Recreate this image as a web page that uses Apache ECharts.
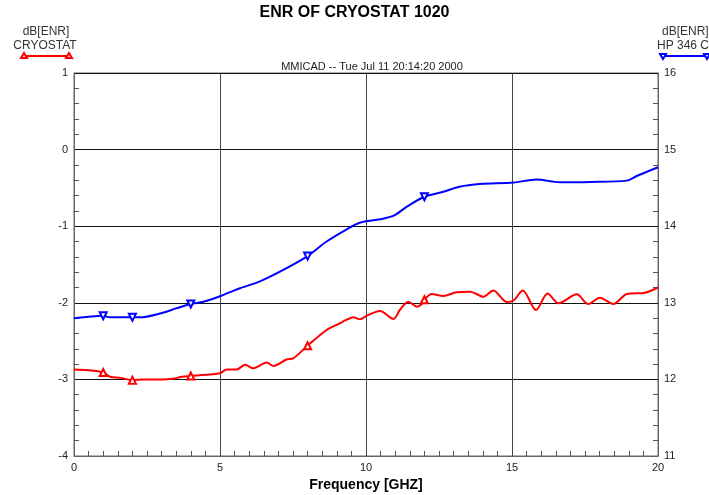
<!DOCTYPE html>
<html>
<head>
<meta charset="utf-8">
<script src="https://cdn.jsdelivr.net/npm/echarts@6/dist/echarts.min.js"></script>
<style>
  html, body { margin: 0; padding: 0; background: #fff; }
  #chart { width: 709px; height: 495px; }
</style>
</head>
<body>
<div id="chart"></div>
<script>
  // CRYOSTAT, left axis dB[ENR]
  var redFreq = [0, 0.5, 1.0, 1.23, 1.6, 2.0, 2.4, 3.0, 3.4, 3.7, 4.0, 4.5, 5.0, 5.23, 5.57, 5.86, 6.14, 6.6, 6.83, 7.28, 7.51, 8.0,
    8.65, 9.1, 9.34, 9.57, 9.8, 10.02, 10.48, 10.94, 11.16, 11.45, 11.74, 11.9, 12.0, 12.25, 12.65, 13.1, 13.56, 14.02, 14.36,
    14.82, 15.05, 15.37, 15.82, 16.22, 16.59, 17.22, 17.61, 18.01, 18.47, 18.93, 19.55, 20];
  var redVal = [-2.87, -2.88, -2.91, -2.965, -2.98, -3.01, -3.0, -3.0, -2.99, -2.965, -2.955, -2.94, -2.92, -2.87, -2.87, -2.81, -2.855, -2.78, -2.825, -2.74, -2.725, -2.56,
    -2.355, -2.27, -2.22, -2.19, -2.215, -2.17, -2.107, -2.21, -2.094, -1.986, -2.05, -2.02, -1.96, -1.885, -1.91, -1.863, -1.855, -1.92, -1.84,
    -1.99, -1.97, -1.84, -2.094, -1.877, -2.006, -1.89, -2.016, -1.933, -2.016, -1.885, -1.868, -1.80];

  // HP 346 C, right axis dB[ENR]
  var blueFreq = [0, 1.0, 1.23, 2.0, 2.26, 2.95, 3.52, 4.0, 4.43, 5.0, 5.68, 6.37, 7.05, 8.0, 8.65, 9.34, 9.79, 10.48, 10.95, 11.4, 12.0,
    12.65, 13.2, 13.9, 15.05, 15.84, 16.64, 17.67, 18.93, 19.27, 20];
  var blueVal = [12.797, 12.83, 12.81, 12.81, 12.81, 12.86, 12.93, 12.984, 13.014, 13.085, 13.19, 13.28, 13.406, 13.61, 13.80, 13.96, 14.046, 14.09, 14.137, 14.255, 14.385,
    14.45, 14.515, 14.55, 14.57, 14.61, 14.573, 14.577, 14.595, 14.655, 14.77];

  var markerFreq = [1, 2, 4, 8, 12];

  var leftTicks = { min: -4, max: 1, interval: 1 };
  var rightTicks = { min: 11, max: 16, interval: 1 };
  var xTicks = { min: 0, max: 20, interval: 5 };

  var font = 'Liberation Sans, Arial, sans-serif';

  function buildData(freq, vals, color, rotate) {
    return freq.map(function (f, i) {
      var item = { value: [f, vals[i]] };
      if (markerFreq.indexOf(f) >= 0) {
        item.symbol = 'triangle';
        item.symbolSize = 7;
        item.symbolRotate = rotate;
        item.itemStyle = { color: '#fff', borderColor: color, borderWidth: 2 };
      }
      return item;
    });
  }

  var chart = echarts.init(document.getElementById('chart'));

  var option = {
    animation: false,
    backgroundColor: '#fff',
    textStyle: { fontFamily: font },
    title: [
      { text: 'ENR OF CRYOSTAT 1020', left: 'center', top: 0, textStyle: { fontSize: 16, fontWeight: 'bold', color: '#000', fontFamily: font } },
      { text: 'MMICAD -- Tue Jul 11 20:14:20 2000', left: 367, textAlign: 'center', top: 56, textStyle: { fontSize: 11, fontWeight: 'normal', color: '#222', fontFamily: font } }
    ],
    grid: { left: 74, right: 51, top: 73, bottom: 39, outerBoundsMode: 'none', show: true, borderColor: '#666', borderWidth: 1 },
    xAxis: {
      type: 'value',
      min: xTicks.min, max: xTicks.max, interval: xTicks.interval,
      name: 'Frequency [GHZ]', nameLocation: 'middle', nameGap: 21,
      nameTextStyle: { fontSize: 14, fontWeight: 'bold', color: '#000', fontFamily: font },
      axisLine: { onZero: false, lineStyle: { color: '#666' } },
      axisTick: { show: false, inside: true },
      minorTick: { show: true, splitNumber: 10, length: 5, lineStyle: { color: '#555' } },
      axisLabel: { color: '#222', fontSize: 11, margin: 6, fontFamily: font },
      splitLine: { show: true, lineStyle: { color: '#444', width: 1 } }
    },
    yAxis: [
      {
        type: 'value',
        min: leftTicks.min, max: leftTicks.max, interval: leftTicks.interval,
        axisLine: { show: true, onZero: false, lineStyle: { color: '#666' } },
        axisTick: { show: false, inside: true },
        minorTick: { show: true, splitNumber: 5, length: 5, lineStyle: { color: '#555' } },
        axisLabel: { color: '#222', fontSize: 11, margin: 6, fontFamily: font },
        splitLine: { show: true, lineStyle: { color: '#111', width: 1 } }
      },
      {
        type: 'value',
        position: 'right',
        min: rightTicks.min, max: rightTicks.max, interval: rightTicks.interval,
        axisLine: { show: true, onZero: false, lineStyle: { color: '#666' } },
        axisTick: { show: false, inside: true },
        minorTick: { show: true, splitNumber: 5, length: 5, lineStyle: { color: '#555' } },
        axisLabel: { color: '#222', fontSize: 11, margin: 6, fontFamily: font },
        splitLine: { show: false }
      }
    ],
    series: [
      {
        name: 'CRYOSTAT',
        type: 'line',
        yAxisIndex: 0,
        symbol: 'none',
        smooth: 0.3,
        lineStyle: { color: '#ff0000', width: 2 },
        itemStyle: { color: '#ff0000' },
        data: buildData(redFreq, redVal, '#ff0000', 0)
      },
      {
        name: 'HP 346 C',
        type: 'line',
        yAxisIndex: 1,
        symbol: 'none',
        smooth: 0.3,
        lineStyle: { color: '#0000ff', width: 2 },
        itemStyle: { color: '#0000ff' },
        data: buildData(blueFreq, blueVal, '#0000ff', 180)
      }
    ],
    graphic: [
      { type: 'text', x: 46, y: 26, style: { text: 'dB[ENR]', align: 'center', fill: '#333', font: '12px ' + font } },
      { type: 'text', x: 45, y: 40, style: { text: 'CRYOSTAT', align: 'center', fill: '#333', font: '12px ' + font } },
      { type: 'line', shape: { x1: 24, y1: 56, x2: 69, y2: 56 }, style: { stroke: '#ff0000', lineWidth: 2 } },
      { type: 'polygon', shape: { points: [[24, 53], [21, 58], [27, 58]] }, style: { fill: '#fff', stroke: '#ff0000', lineWidth: 2 } },
      { type: 'polygon', shape: { points: [[69, 53], [66, 58], [72, 58]] }, style: { fill: '#fff', stroke: '#ff0000', lineWidth: 2 } },
      { type: 'text', x: 662, y: 26, style: { text: 'dB[ENR]', align: 'left', fill: '#333', font: '12px ' + font } },
      { type: 'text', x: 657, y: 40, style: { text: 'HP 346 C', align: 'left', fill: '#333', font: '12px ' + font } },
      { type: 'line', shape: { x1: 663, y1: 56, x2: 709, y2: 56 }, style: { stroke: '#0000ff', lineWidth: 2 } },
      { type: 'polygon', shape: { points: [[663, 59], [660, 54], [666, 54]] }, style: { fill: '#fff', stroke: '#0000ff', lineWidth: 2 } },
      { type: 'polygon', shape: { points: [[707, 59], [704, 54], [710, 54]] }, style: { fill: '#fff', stroke: '#0000ff', lineWidth: 2 } }
    ]
  };

  chart.setOption(option);
</script>
</body>
</html>
